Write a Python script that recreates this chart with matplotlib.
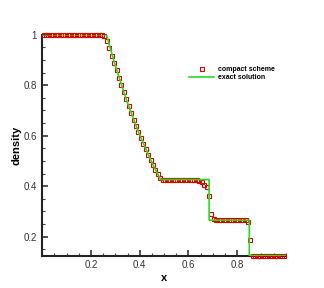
import matplotlib
matplotlib.use("Agg")
import matplotlib.pyplot as plt
from matplotlib.ticker import MultipleLocator, FixedLocator

plt.rcParams['font.family'] = ['Liberation Sans', 'DejaVu Sans']

# numerical (compact scheme) results at cell centres
num_x = [0.005 + 0.01 * i for i in range(100)]
num_rho = (
    [1.0] * 25 +
    [0.996, 0.974, 0.946, 0.917, 0.888, 0.859, 0.830, 0.802, 0.774, 0.746,
     0.719, 0.690, 0.664, 0.639, 0.615, 0.591, 0.569, 0.546, 0.525, 0.504,
     0.485, 0.466, 0.448, 0.432, 0.426] +
    [0.426] * 14 +
    [0.422, 0.415, 0.405, 0.396, 0.360, 0.290, 0.270] +
    [0.266] * 13 +
    [0.260, 0.188] +
    [0.125] * 14
)

# exact solution
ex_x = [0.0, 0.2634, 0.30, 0.35, 0.40, 0.45, 0.4859, 0.6854, 0.6854, 0.8504, 0.8504, 1.0]
ex_rho = [1.0, 1.0, 0.8775, 0.730, 0.603, 0.494, 0.4263, 0.4263, 0.2656, 0.2656, 0.125, 0.125]

xticks = [0.2, 0.4, 0.6, 0.8]
yticks = [0.2, 0.4, 0.6, 0.8, 1.0]
ytick_labels = ['0.2', '0.4', '0.6', '0.8', '1']

fig = plt.figure(figsize=(3.24, 2.88), dpi=100)
ax = fig.add_axes([0.1306, 0.1122, 0.7512, 0.7673])

ax.plot(num_x, num_rho, linestyle='none', marker='s', markersize=3.0,
        markerfacecolor='none', markeredgecolor='#e00000', markeredgewidth=0.8,
        label='compact scheme', clip_on=False, zorder=3)
ax.plot(ex_x, ex_rho, color='#22dd22', linewidth=1.2, label='exact solution', zorder=4)

ax.set_xlim(0, 1)
ax.set_ylim(0.125, 1.0)
for s in ['top', 'right']:
    ax.spines[s].set_visible(False)
for s in ['left', 'bottom']:
    ax.spines[s].set_linewidth(1.5)
    ax.spines[s].set_color('#222222')

ax.xaxis.set_major_locator(FixedLocator(xticks))
ax.yaxis.set_major_locator(FixedLocator(yticks))
ax.set_yticklabels(ytick_labels)
ax.xaxis.set_minor_locator(MultipleLocator(0.05))
ax.yaxis.set_minor_locator(MultipleLocator(0.05))
ax.tick_params(which='major', direction='in', length=4.5, width=1.2, labelsize=7,
               colors='#333333', pad=3)
ax.tick_params(which='minor', direction='in', length=2.5, width=0.8, colors='#444444')
ax.tick_params(axis='y', which='major', pad=4)

ax.set_xlabel('x', fontsize=8, fontweight='bold', labelpad=2)
ax.set_ylabel('density', fontsize=8, fontweight='bold', labelpad=1)

leg = ax.legend(loc='upper left', bbox_to_anchor=(0.59, 0.872), frameon=False,
                fontsize=5, handlelength=3.6, handletextpad=0.5, labelspacing=0.1,
                borderpad=0)
for t in leg.get_texts():
    t.set_fontweight('bold')

fig.savefig('out.png', dpi=100)
